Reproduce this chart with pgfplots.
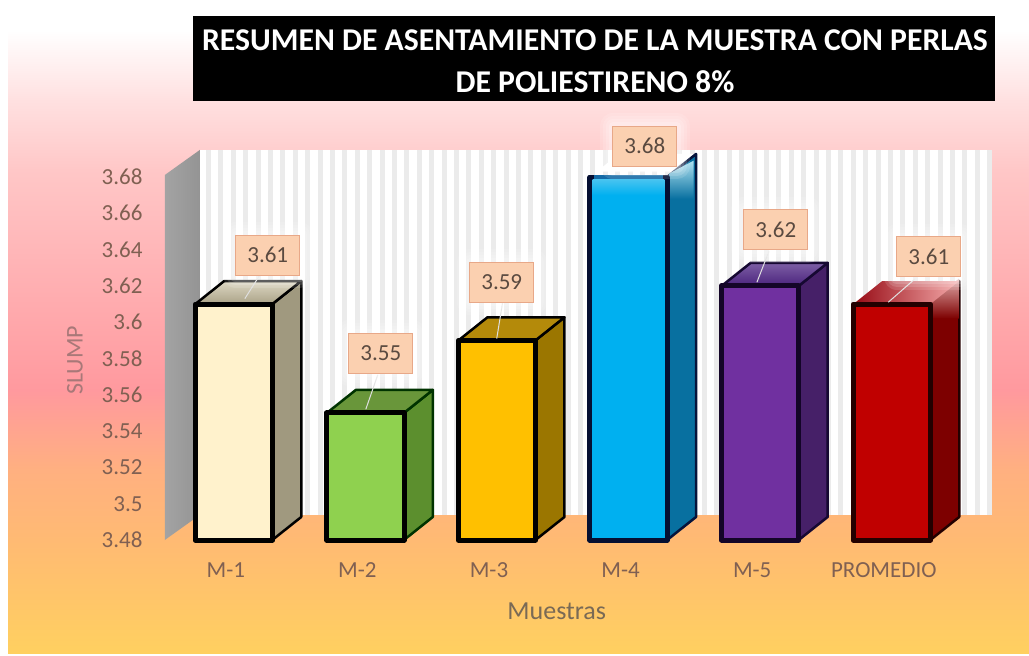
\documentclass[border=0pt]{standalone}
\usepackage{fontspec}
\setmainfont{Carlito}
\usepackage{pgfplots}
\pgfplotsset{compat=1.18}
\definecolor{tickc}{HTML}{806052}
\definecolor{ylabc}{HTML}{A87878}
\definecolor{xlabc}{HTML}{7A6A55}
\definecolor{boxc}{HTML}{FBD0B0}
\definecolor{boxe}{HTML}{E8A888}
\definecolor{valc}{HTML}{5A4A40}
\definecolor{bgA}{rgb}{1,0.88,0.88}
\definecolor{bgB}{rgb}{1,0.78,0.78}
\definecolor{bgC}{rgb}{1,0.60,0.62}
\definecolor{bgD}{RGB}{255,176,128}
\definecolor{bgE}{RGB}{255,186,115}
\definecolor{bgF}{RGB}{255,208,96}
\newcommand{\fs}[1]{\fontsize{#1}{#1}\selectfont}
\begin{document}
\begin{tikzpicture}[x=1pt,y=1pt]
% page and gradient
\fill[white] (0,0) rectangle (1029,-656);
\shade[top color=white,bottom color=bgA] (8,-30) rectangle (1029,-100.5);
\shade[top color=bgA,bottom color=bgB] (8,-100) rectangle (1029,-170.5);
\shade[top color=bgB,bottom color=bgC] (8,-170) rectangle (1029,-390.5);
\shade[top color=bgC,bottom color=bgD] (8,-390) rectangle (1029,-470.5);
\shade[top color=bgD,bottom color=bgE] (8,-470) rectangle (1029,-540.5);
\shade[top color=bgE,bottom color=bgF] (8,-540) rectangle (1029,-653);
% back wall
\fill[white] (200,-150) rectangle (990,-515);
\foreach \k in {0,...,63}{\fill[black!8] ({206+\k*12.4},-150) rectangle ({211+\k*12.4},-515);}
% title
\fill[black] (193,-16) rectangle (995,-101);
\node[white,font=\fs{31.7}\bfseries,inner sep=0pt] at (595,-40) {RESUMEN DE ASENTAMIENTO DE LA MUESTRA CON PERLAS};
\node[white,font=\fs{31.7}\bfseries,inner sep=0pt] at (595,-82) {DE POLIESTIRENO 8\%};
\begin{axis}[
  at={(168pt,-540pt)},anchor=south west,
  scale only axis,width=789.6pt,height=363pt,
  xmin=-0.5,xmax=5.5,ymin=3.48,ymax=3.68,
  clip=false,
  axis line style={draw=none},
  tick style={draw=none},
  xtick={0,1,2,3,4,5},
  xticklabels={M-1,M-2,M-3,M-4,M-5,PROMEDIO},
  ytick={3.48,3.5,3.52,3.54,3.56,3.58,3.6,3.62,3.64,3.66,3.68},
  /pgf/number format/assume math mode=true,
  /pgf/number format/precision=2,
  yticklabel style={font=\fs{23},text=tickc,xshift=-22pt},
  xticklabel style={font=\fs{23},text=tickc,xshift=-8pt,yshift=-19pt},
  xlabel={Muestras},ylabel={SLUMP},
  every axis x label/.style={at={(axis cs:2.454,3.441)},anchor=center,font=\fs{26},text=xlabc},
  every axis y label/.style={at={(axis cs:-1.208,3.579)},anchor=center,rotate=90,font=\fs{24},text=ylabc},
  side/.style={line width=2.5pt,line join=round},
  front/.style={ybar,bar width=77.5pt,bar shift=0pt,line width=5pt,draw=black,line join=round},
]
% left wall
\addplot[draw=none,shade,left color=black!36,right color=black!42] coordinates {(-0.5243,3.48)(-0.5243,3.6811)(-0.2584,3.6949)(-0.2584,3.4938)} --cycle;

% M-1
\addplot[side,draw=black,fill={rgb,255:red,160;green,153;blue,127}] coordinates {(0.2926,3.48)(0.5126,3.4927)(0.5126,3.6227)(0.2926,3.61)} --cycle;
\addplot[side,draw=black,shade,top color={rgb,255:red,222;green,216;blue,196},bottom color={rgb,255:red,170;green,162;blue,135}] coordinates {(-0.2926,3.61)(-0.0726,3.6227)(0.5126,3.6227)(0.2926,3.61)} --cycle;
\addplot[front,fill={rgb,255:red,255;green,242;blue,204}] coordinates {(0,3.61)};

% M-2
\addplot[side,draw=black!80!green,fill={rgb,255:red,92;green,143;blue,46}] coordinates {(1.2926,3.48)(1.5126,3.4927)(1.5126,3.5627)(1.2926,3.55)} --cycle;
\addplot[side,draw=black!80!green,fill={rgb,255:red,105;green,150;blue,58}] coordinates {(0.7074,3.55)(0.9274,3.5627)(1.5126,3.5627)(1.2926,3.55)} --cycle;
\addplot[front,fill={rgb,255:red,143;green,209;blue,79}] coordinates {(1,3.55)};

% M-3
\addplot[side,draw=black,fill={rgb,255:red,155;green,118;blue,0}] coordinates {(2.2926,3.48)(2.5126,3.4927)(2.5126,3.6027)(2.2926,3.59)} --cycle;
\addplot[side,draw=black,fill={rgb,255:red,180;green,138;blue,10}] coordinates {(1.7074,3.59)(1.9274,3.6027)(2.5126,3.6027)(2.2926,3.59)} --cycle;
\addplot[front,fill={rgb,255:red,255;green,192;blue,0}] coordinates {(2,3.59)};

% M-4
\addplot[side,draw={rgb,255:red,5;green,20;blue,60},fill={rgb,255:red,8;green,112;blue,160}] coordinates {(3.2926,3.48)(3.5126,3.4927)(3.5126,3.6927)(3.2926,3.68)} --cycle;
\addplot[draw=none,shade,top color={rgb,255:red,175;green,225;blue,240},bottom color={rgb,255:red,8;green,112;blue,160}] coordinates {(3.31,3.668)(3.495,3.668)(3.495,3.689)(3.31,3.682)} --cycle;
\addplot[draw=none,fill=white] coordinates {(2.7574,3.683)(2.9274,3.6927)(3.4926,3.6927)(3.3126,3.683)} --cycle;
\addplot[front,fill={rgb,255:red,0;green,176;blue,240},draw={rgb,255:red,5;green,15;blue,50}] coordinates {(3,3.68)};
\addplot[line width=5pt,color={rgb,255:red,20;green,105;blue,165}] coordinates {(2.74,3.68)(3.26,3.68)};
\addplot[draw=none,shade,top color={rgb,255:red,70;green,195;blue,240},bottom color={rgb,255:red,0;green,176;blue,240}] coordinates {(2.7274,3.6785)(3.2726,3.6785)(3.2726,3.67)(2.7274,3.67)} --cycle;

% M-5
\addplot[side,draw={rgb,255:red,22;green,8;blue,50},fill={rgb,255:red,70;green,32;blue,104}] coordinates {(4.2926,3.48)(4.5126,3.4927)(4.5126,3.6327)(4.2926,3.62)} --cycle;
\addplot[side,draw={rgb,255:red,22;green,8;blue,50},shade,top color={rgb,255:red,125;green,95;blue,165},bottom color={rgb,255:red,75;green,35;blue,125}] coordinates {(3.7074,3.62)(3.9274,3.6327)(4.5126,3.6327)(4.2926,3.62)} --cycle;
\addplot[front,fill={rgb,255:red,112;green,48;blue,160},draw={rgb,255:red,20;green,5;blue,40}] coordinates {(4,3.62)};

% PROMEDIO
\addplot[side,draw={rgb,255:red,35;green,0;blue,0},fill={rgb,255:red,125;green,0;blue,0}] coordinates {(5.2926,3.48)(5.5126,3.4927)(5.5126,3.6227)(5.2926,3.61)} --cycle;
\addplot[draw=none,shade,top color={rgb,255:red,225;green,170;blue,170},bottom color={rgb,255:red,125;green,0;blue,0}] coordinates {(5.31,3.602)(5.51,3.602)(5.51,3.624)(5.31,3.612)} --cycle;
\addplot[draw=none,shade,left color={rgb,255:red,150;green,10;blue,20},right color={rgb,255:red,245;green,170;blue,170}] coordinates {(4.7074,3.61)(4.9274,3.6227)(5.5126,3.6227)(5.2926,3.61)} --cycle;
\addplot[front,fill={rgb,255:red,192;green,0;blue,0},draw={rgb,255:red,35;green,0;blue,0}] coordinates {(5,3.61)};

% leader lines
\addplot[white!75!gray,line width=1pt] coordinates {(0.198,3.626)(0.084,3.613)};
\addplot[white!75!gray,line width=1pt] coordinates {(1.094,3.571)(1.003,3.552)};
\addplot[white!75!gray,line width=1pt] coordinates {(2.043,3.611)(1.998,3.591)};
\addplot[white!75!gray,line width=1pt] coordinates {(4.066,3.639)(3.975,3.622)};
\addplot[white!75!gray,line width=1pt] coordinates {(5.178,3.624)(4.973,3.611)};

% value labels
\tikzset{vlab/.style={fill=boxc,draw=boxe,line width=0.8pt,text=valc,font=\fs{23},minimum width=64pt,minimum height=40pt,inner sep=0pt,
  preaction={draw=white,draw opacity=0.12,line width=26pt,line join=round},
  preaction={draw=white,draw opacity=0.14,line width=20pt,line join=round},
  preaction={draw=white,draw opacity=0.16,line width=14pt,line join=round},
  preaction={draw=white,draw opacity=0.2,line width=8pt,line join=round}}}
\node[vlab] at (axis cs:0.258,3.637) {3.61};
\node[vlab] at (axis cs:1.117,3.583) {3.55};
\node[vlab] at (axis cs:2.036,3.622) {3.59};
\node[vlab] at (axis cs:3.123,3.697) {3.68};
\node[vlab] at (axis cs:4.119,3.651) {3.62};
\node[vlab] at (axis cs:5.281,3.636) {3.61};
\end{axis}
\end{tikzpicture}
\end{document}
